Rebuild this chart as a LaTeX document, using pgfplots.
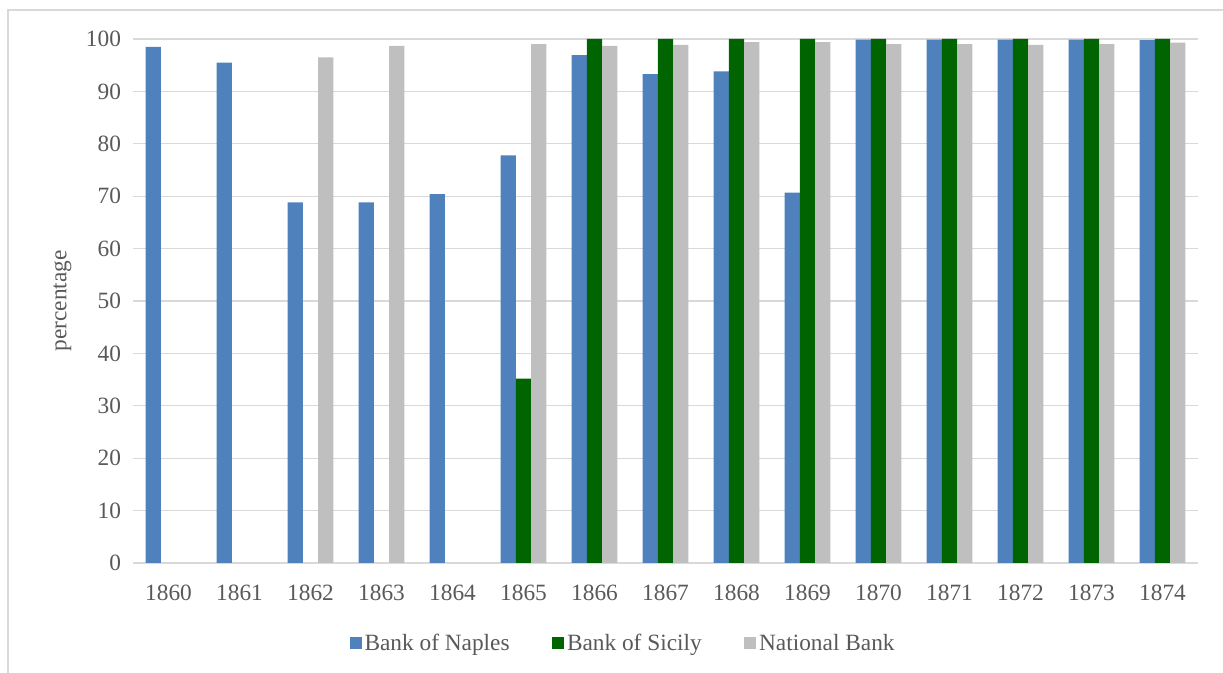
\documentclass[border=0pt]{standalone}
\usepackage{pgfplots}
\pgfplotsset{compat=1.18}
\usepackage{fontspec}
\setmainfont{Liberation Serif}
\definecolor{cNaples}{HTML}{4F81BD}
\definecolor{cSicily}{HTML}{006400}
\definecolor{cNational}{HTML}{BFBFBF}
\definecolor{cGrid}{HTML}{D9D9D9}
\definecolor{cText}{HTML}{595959}
\begin{document}
\begin{tikzpicture}
\useasboundingbox (0,0) rectangle (917.25pt,504.75pt);
\draw[cGrid, line width=1pt] (6pt,-10pt) rectangle (930pt,497.25pt);
\begin{axis}[
  at={(99.75pt,82.5pt)}, anchor=south west,
  width=798.75pt, height=393pt, scale only axis,
  xmin=-0.5, xmax=14.5, ymin=0, ymax=100,
  ytick={0,10,...,100},
  xtick={0,...,14},
  xticklabels={1860,1861,1862,1863,1864,1865,1866,1867,1868,1869,1870,1871,1872,1873,1874},
  ybar, bar width=0.215,
  axis line style={draw=none},
  major tick length=0pt,
  ymajorgrids, grid style={cGrid, line width=0.9pt},
  /pgf/number format/assume math mode=true,
  tick label style={font=\fontsize{17.5}{20}\selectfont, text=cText},
  yticklabel style={xshift=-5.5pt},
  xticklabel style={yshift=-13pt},
  ylabel={percentage},
  ylabel style={font=\fontsize{17.5}{20}\selectfont, text=cText, yshift=4pt},
  legend columns=3,
  legend style={at={(0.4606,-0.1527)}, anchor=center, draw=none, fill=none,
    font=\fontsize{17.5}{20}\selectfont, text=cText,
    nodes={inner xsep=2pt},
    /tikz/every even column/.append style={column sep=30pt}},
  legend image code/.code={\fill[#1] (0pt,-4.5pt) rectangle (9pt,4.5pt);},
]
\addplot[fill=cNaples, draw=none, bar shift=-0.215] coordinates {
 (0,98.5) (1,95.5) (2,68.8) (3,68.8) (4,70.4) (5,77.8) (6,96.9) (7,93.3)
 (8,93.8) (9,70.7) (10,99.9) (11,99.9) (12,99.9) (13,99.9) (14,99.8)};
\addlegendentry{Bank of Naples}
\addplot[fill=cSicily, draw=none, bar shift=0] coordinates {
 (5,35.2) (6,100) (7,100) (8,100) (9,100) (10,100) (11,100) (12,100) (13,100) (14,100)};
\addlegendentry{Bank of Sicily}
\addplot[fill=cNational, draw=none, bar shift=0.215] coordinates {
 (2,96.5) (3,98.7) (5,99.0) (6,98.7) (7,98.9) (8,99.4) (9,99.4) (10,99.0)
 (11,99.0) (12,98.9) (13,99.0) (14,99.3)};
\addlegendentry{National Bank}
\end{axis}
\end{tikzpicture}
\end{document}
